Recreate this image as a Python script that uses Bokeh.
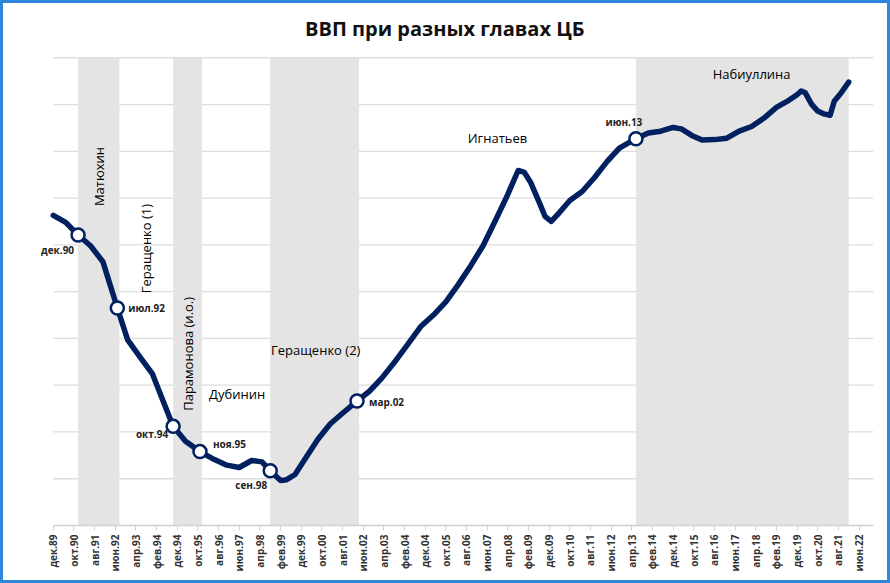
import math
from bokeh.plotting import figure
from bokeh.models import ColumnDataSource, FixedTicker, Range1d, LabelSet
from bokeh.core.properties import value
from bokeh.embed import file_html
from bokeh.resources import INLINE

# ---- data (GDP, index units; gridline step = 10) ----
gdp_month = ["1989-12", "1990-06", "1990-12", "1991-06", "1991-12", "1992-07", "1992-12",
             "1993-06", "1993-12", "1994-05", "1994-10", "1995-04", "1995-11", "1996-06",
             "1996-12", "1997-06", "1997-12", "1998-05", "1998-09", "1999-02", "1999-05",
             "1999-09", "2000-02", "2000-08", "2001-02", "2001-08", "2002-03", "2002-09",
             "2003-03", "2003-10", "2004-04", "2004-10", "2005-04", "2005-10", "2006-04",
             "2006-10", "2007-04", "2007-10", "2008-04", "2008-09", "2008-12", "2009-03",
             "2009-07", "2009-10", "2010-01", "2010-05", "2010-10", "2011-04", "2011-10",
             "2012-04", "2012-10", "2013-06", "2013-12", "2014-06", "2014-12", "2015-04",
             "2015-09", "2016-02", "2016-08", "2017-02", "2017-08", "2018-02", "2018-08",
             "2019-02", "2019-08", "2019-12", "2020-02", "2020-04", "2020-07", "2020-10",
             "2021-01", "2021-04", "2021-06", "2021-09", "2022-01"]
gdp_value = [66.3, 64.8, 62.1, 59.8, 56.4, 46.5, 39.7,
             36.0, 32.4, 26.8, 21.2, 18.0, 15.8, 14.1,
             12.9, 12.4, 13.9, 13.6, 11.7, 9.6, 9.8,
             10.9, 14.3, 18.4, 21.7, 24.0, 26.6, 28.7,
             31.5, 35.4, 39.0, 42.6, 45.0, 47.8, 51.5,
             55.5, 59.8, 65.2, 70.8, 75.9, 75.5, 73.4,
             69.3, 66.1, 65.0, 66.9, 69.5, 71.4, 74.4,
             77.8, 80.7, 82.7, 83.9, 84.3, 85.1, 84.8,
             83.4, 82.4, 82.5, 82.8, 84.3, 85.3, 87.1,
             89.4, 90.9, 92.1, 92.9, 92.5, 90.1, 88.6,
             88.0, 87.7, 90.7, 92.3, 94.8]

tick_labels = ["дек.89", "окт.90", "авг.91", "июн.92", "апр.93", "фев.94", "дек.94", "окт.95",
               "авг.96", "июн.97", "апр.98", "фев.99", "дек.99", "окт.00", "авг.01", "июн.02",
               "апр.03", "фев.04", "дек.04", "окт.05", "авг.06", "июн.07", "апр.08", "фев.09",
               "дек.09", "окт.10", "авг.11", "июн.12", "апр.13", "фев.14", "дек.14", "окт.15",
               "авг.16", "июн.17", "апр.18", "фев.19", "дек.19", "окт.20", "авг.21", "июн.22"]

marker_months = ["1990-12", "1992-07", "1994-10", "1995-11", "1998-09", "2002-03", "2013-06"]
marker_labels = ["дек.90", "июл.92", "окт.94", "ноя.95", "сен.98", "мар.02", "июн.13"]

band_start = ["1990-12", "1994-10", "1998-09", "2013-06"]
band_end = ["1992-08", "1995-12", "2002-04", "2022-01"]

governors = ["Матюхин", "Геращенко (1)", "Парамонова (и.о.)", "Дубинин",
             "Геращенко (2)", "Игнатьев", "Набиуллина"]
governor_month = ["1991-10", "1993-09", "1995-05", "1997-05", "2000-07", "2007-11", "2018-02"]
governor_y = [74.6, 59.2, 36.7, 28.1, 37.5, 82.8, 96.6]
governor_vertical = [True, True, True, False, False, False, False]

title_text = "ВВП при разных главах ЦБ"


def midx(s):
    y, m = s.split("-")
    return (int(y) - 1989) * 12 + (int(m) - 12)


NAVY = "#002060"
FONT = "Open Sans"
X_END = 397
Y_TOP = 100          # top of the plotting area
Y_CANVAS_TOP = 111.6  # extra room above for the title

xs = [midx(s) for s in gdp_month]
p = figure(width=890, height=583, output_backend="svg", toolbar_location=None,
           x_range=Range1d(-12, X_END), y_range=Range1d(0, Y_CANVAS_TOP),
           min_border_left=25, min_border_right=20, min_border_top=0, min_border_bottom=61)
p.styles = {"border": "3px solid #2F86DA"}
p.background_fill_color = "white"
p.border_fill_color = "white"
p.outline_line_color = None

# horizontal gridlines (drawn only across the plotting area)
grid_levels = list(range(10, Y_TOP + 1, 10))
p.segment(x0=[0] * len(grid_levels), x1=[X_END] * len(grid_levels),
          y0=grid_levels, y1=grid_levels, line_color="#DDDDDD", line_width=1.3)

# bands
p.quad(left=[midx(s) for s in band_start], right=[midx(s) for s in band_end],
       bottom=0, top=Y_TOP, fill_color="#E4E4E4", line_color=None)

p.xgrid.visible = False
p.ygrid.visible = False
p.yaxis.visible = False

# x axis
tick_pos = [i * 10 for i in range(len(tick_labels))]
p.xaxis.bounds = (0, X_END)
p.xaxis.ticker = FixedTicker(ticks=tick_pos)
p.xaxis.major_label_overrides = {t: l for t, l in zip(tick_pos, tick_labels)}
p.xaxis.major_label_orientation = math.pi / 2
p.xaxis.major_label_text_font = FONT
p.xaxis.major_label_text_font_size = "10px"
p.xaxis.major_label_text_font_style = "bold"
p.xaxis.major_label_text_color = "#333333"
p.xaxis.axis_line_color = "#D0D0D0"
p.xaxis.axis_line_width = 1.3
p.xaxis.major_tick_line_color = "#D0D0D0"
p.xaxis.major_tick_in = 0
p.xaxis.major_tick_out = 5
p.xaxis.minor_tick_line_color = None
p.xaxis.major_label_standoff = 4

# title (as text placed above the plotting area)
p.text(x=[X_END / 2 - 9], y=[(Y_TOP + Y_CANVAS_TOP) / 2 + 0.4], text=[title_text],
       text_align="center", text_baseline="middle", text_font=value(FONT),
       text_font_size="20px", text_font_style="bold", text_color="#111111")

# line
p.line(xs, gdp_value, line_color=NAVY, line_width=5.5, line_join="round", line_cap="round")

# markers
mx = [midx(s) for s in marker_months]
my = [gdp_value[gdp_month.index(s)] for s in marker_months]
p.scatter(mx, my, size=13, fill_color="white", line_color=NAVY, line_width=2.5)

msrc = ColumnDataSource(dict(
    x=mx, y=my, t=marker_labels,
    xo=[-4, 11, -5, 13, -3, 12, -12],
    yo=[-15, 0, -8, 8, -14, -1, 17],
    al=["right", "left", "right", "left", "right", "left", "center"],
))
p.add_layout(LabelSet(x="x", y="y", text="t", x_offset="xo", y_offset="yo", text_align="al",
                      text_baseline="middle", text_font=value(FONT), text_font_size="10px",
                      text_font_style="bold", text_color="#222222", source=msrc))

# governor names
gsrc = ColumnDataSource(dict(
    x=[midx(s) for s in governor_month], y=governor_y, t=governors,
    a=[math.pi / 2 if v else 0 for v in governor_vertical],
))
p.text(x="x", y="y", text="t", angle="a", text_align="center", text_baseline="middle",
       text_font=value(FONT), text_font_size="13px", text_font_style="normal",
       text_color="#000000", source=gsrc)

open("out.html", "w").write(file_html(p, INLINE))
